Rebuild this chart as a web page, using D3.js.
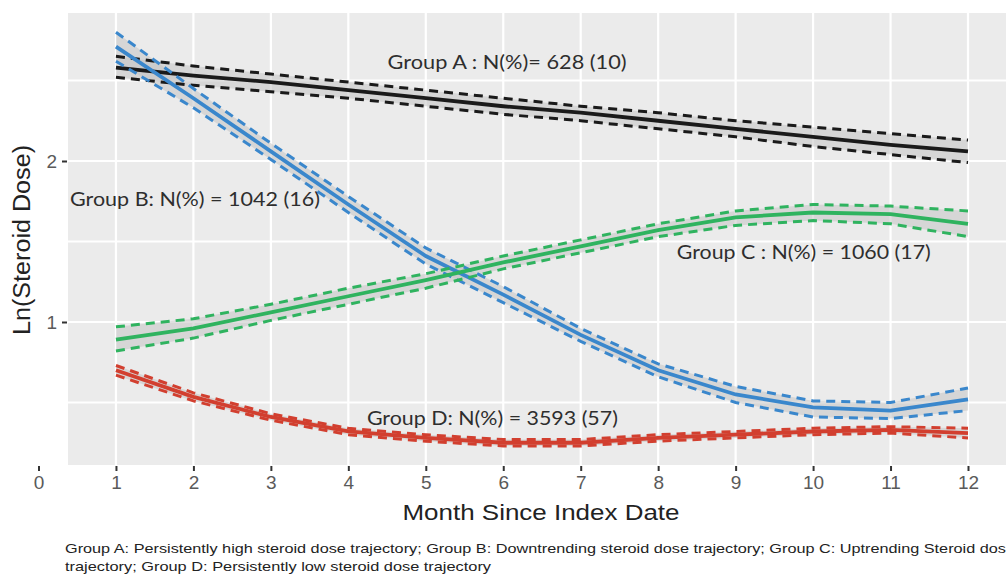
<!DOCTYPE html>
<html>
<head>
<meta charset="utf-8">
<script src="https://cdn.jsdelivr.net/npm/d3@7"></script>
<style>
  body { margin: 0; background: #fff; }
  svg { display: block; }
</style>
</head>
<body>
<div id="chart"></div>
<script>
// months on the x axis
var months = [1, 2, 3, 4, 5, 6, 7, 8, 9, 10, 11, 12];
var xTicks = [0, 1, 2, 3, 4, 5, 6, 7, 8, 9, 10, 11, 12];
var yTicks = [1, 2];
var yGrid = [0.5, 1, 1.5, 2, 2.5];

// Group A - persistently high
var groupA   = [2.58, 2.53, 2.49, 2.44, 2.39, 2.34, 2.30, 2.25, 2.20, 2.15, 2.10, 2.06];
var groupAhi = [2.65, 2.59, 2.54, 2.49, 2.44, 2.39, 2.34, 2.30, 2.25, 2.21, 2.17, 2.13];
var groupAlo = [2.52, 2.47, 2.43, 2.39, 2.34, 2.29, 2.25, 2.20, 2.15, 2.09, 2.04, 1.99];
// Group B - downtrending
var groupB   = [2.71, 2.39, 2.06, 1.73, 1.41, 1.17, 0.92, 0.70, 0.55, 0.47, 0.45, 0.52];
var groupBhi = [2.80, 2.45, 2.11, 1.78, 1.46, 1.22, 0.96, 0.74, 0.60, 0.51, 0.50, 0.59];
var groupBlo = [2.62, 2.33, 2.01, 1.68, 1.36, 1.12, 0.88, 0.66, 0.50, 0.41, 0.40, 0.45];
// Group C - uptrending
var groupC   = [0.89, 0.96, 1.06, 1.16, 1.26, 1.37, 1.47, 1.57, 1.65, 1.68, 1.67, 1.61];
var groupChi = [0.97, 1.02, 1.11, 1.21, 1.30, 1.41, 1.51, 1.61, 1.69, 1.73, 1.72, 1.69];
var groupClo = [0.82, 0.90, 1.01, 1.11, 1.21, 1.33, 1.43, 1.53, 1.60, 1.63, 1.61, 1.53];
// Group D - persistently low
var groupD   = [0.70, 0.535, 0.41, 0.32, 0.28, 0.25, 0.25, 0.28, 0.30, 0.32, 0.33, 0.31];
var groupDhi = [0.73, 0.56, 0.43, 0.34, 0.30, 0.27, 0.27, 0.30, 0.32, 0.34, 0.35, 0.34];
var groupDlo = [0.67, 0.51, 0.39, 0.30, 0.26, 0.23, 0.23, 0.26, 0.28, 0.30, 0.31, 0.28];

var labels = ['Group A : N(%)= 628 (10)', 'Group B: N(%) = 1042 (16)',
              'Group C : N(%) = 1060 (17)', 'Group D: N(%) = 3593 (57)'];
var caption = ['Group A:  Persistently high steroid dose trajectory;  Group  B: Downtrending  steroid dose trajectory;  Group C: Uptrending  Steroid dose',
               'trajectory;  Group  D: Persistently low steroid dose trajectory'];

var width = 1006, height = 574;
var svg = d3.select('#chart').append('svg')
    .attr('width', width)
    .attr('height', height);

var x = d3.scaleLinear().domain([0, 12]).range([38.5, 968]);
var y = d3.scaleLinear().domain([0, 2]).range([483, 161]);

var panel = {left: 68, top: 13, right: 1010, bottom: 465};

svg.append('rect')
    .attr('x', panel.left).attr('y', panel.top)
    .attr('width', panel.right - panel.left)
    .attr('height', panel.bottom - panel.top)
    .attr('fill', '#ebebeb');

// grid
svg.selectAll('.hgrid').data(yGrid).enter().append('line')
    .attr('x1', panel.left).attr('x2', panel.right)
    .attr('y1', function(d){ return y(d); })
    .attr('y2', function(d){ return y(d); })
    .attr('stroke', '#fff').attr('stroke-width', 2.2);
svg.selectAll('.vgrid').data(months).enter().append('line')
    .attr('y1', panel.top).attr('y2', panel.bottom)
    .attr('x1', function(d){ return x(d); })
    .attr('x2', function(d){ return x(d); })
    .attr('stroke', '#fff').attr('stroke-width', 2.2);

// axes
var xAxis = svg.append('g')
    .attr('transform', 'translate(0,' + (panel.bottom + 1) + ')')
    .call(d3.axisBottom(x).tickValues(xTicks).tickSize(5).tickPadding(5).tickFormat(d3.format('d')));
xAxis.select('.domain').remove();
xAxis.selectAll('line').attr('stroke', '#333').attr('stroke-width', 2);
xAxis.selectAll('text').attr('font-family', 'Liberation Sans, Arial, sans-serif')
    .attr('font-size', 19).attr('fill', '#5a5a5a');

var yAxis = svg.append('g')
    .attr('transform', 'translate(' + (panel.left - 1) + ',0)')
    .call(d3.axisLeft(y).tickValues(yTicks).tickSize(5).tickPadding(5).tickFormat(d3.format('d')));
yAxis.select('.domain').remove();
yAxis.selectAll('line').attr('stroke', '#333').attr('stroke-width', 2);
yAxis.selectAll('text').attr('font-family', 'Liberation Sans, Arial, sans-serif')
    .attr('font-size', 19).attr('fill', '#5a5a5a');

// series
var series = [
  {mid: groupA, hi: groupAhi, lo: groupAlo, color: '#1a1a1a'},
  {mid: groupB, hi: groupBhi, lo: groupBlo, color: '#3a87cc'},
  {mid: groupC, hi: groupChi, lo: groupClo, color: '#2fb35f'},
  {mid: groupD, hi: groupDhi, lo: groupDlo, color: '#d23f2f'}
];

var line = d3.line()
    .x(function(d, i){ return x(months[i]); })
    .y(function(d){ return y(d); });

series.forEach(function(s){
  var area = d3.area()
      .x(function(d, i){ return x(months[i]); })
      .y0(function(d, i){ return y(s.lo[i]); })
      .y1(function(d, i){ return y(s.hi[i]); });
  svg.append('path').datum(s.mid)
      .attr('d', area)
      .attr('fill', '#c4c4c4').attr('fill-opacity', 0.55);
});

series.forEach(function(s){
  [s.hi, s.lo].forEach(function(b){
    svg.append('path').datum(b)
        .attr('d', line)
        .attr('fill', 'none')
        .attr('stroke', s.color)
        .attr('stroke-width', 3)
        .attr('stroke-dasharray', '9,6');
  });
  svg.append('path').datum(s.mid)
      .attr('d', line)
      .attr('fill', 'none')
      .attr('stroke', s.color)
      .attr('stroke-width', 3.8);
});

// annotations
var labelPos = [[6.05, 2.61], [2.02, 1.76], [9.88, 1.43], [5.86, 0.40]];
var labelWidth = [239, 250, 254, 251];
svg.selectAll('.lab').data(labels).enter().append('text')
    .attr('x', function(d, i){ return x(labelPos[i][0]); })
    .attr('y', function(d, i){ return y(labelPos[i][1]); })
    .attr('dy', '0.35em')
    .attr('text-anchor', 'middle')
    .attr('font-family', 'Lato, Liberation Sans, sans-serif')
    .attr('font-size', 19)
    .attr('fill', '#2e2e2e')
    .attr('textLength', function(d, i){ return labelWidth[i]; })
    .attr('lengthAdjust', 'spacingAndGlyphs')
    .text(function(d){ return d; });

// axis titles
svg.append('text')
    .attr('x', 541).attr('y', 520)
    .attr('text-anchor', 'middle')
    .attr('font-family', 'Liberation Sans, Arial, sans-serif')
    .attr('font-size', 22).attr('fill', '#222')
    .attr('textLength', 277)
    .attr('lengthAdjust', 'spacingAndGlyphs')
    .text('Month Since Index Date');
svg.append('text')
    .attr('transform', 'translate(30,240) rotate(-90)')
    .attr('text-anchor', 'middle')
    .attr('font-family', 'Liberation Sans, Arial, sans-serif')
    .attr('font-size', 23).attr('fill', '#222')
    .attr('textLength', 190)
    .attr('lengthAdjust', 'spacingAndGlyphs')
    .text('Ln(Steroid Dose)');

// caption
var captionWidth = [950, 426];
svg.selectAll('.cap').data(caption).enter().append('text')
    .attr('x', 65)
    .attr('y', function(d, i){ return 553 + i * 18; })
    .attr('font-family', 'Liberation Sans, Arial, sans-serif')
    .attr('font-size', 13.5)
    .attr('fill', '#222')
    .attr('textLength', function(d, i){ return captionWidth[i]; })
    .attr('lengthAdjust', 'spacingAndGlyphs')
    .text(function(d){ return d; });
</script>
</body>
</html>
